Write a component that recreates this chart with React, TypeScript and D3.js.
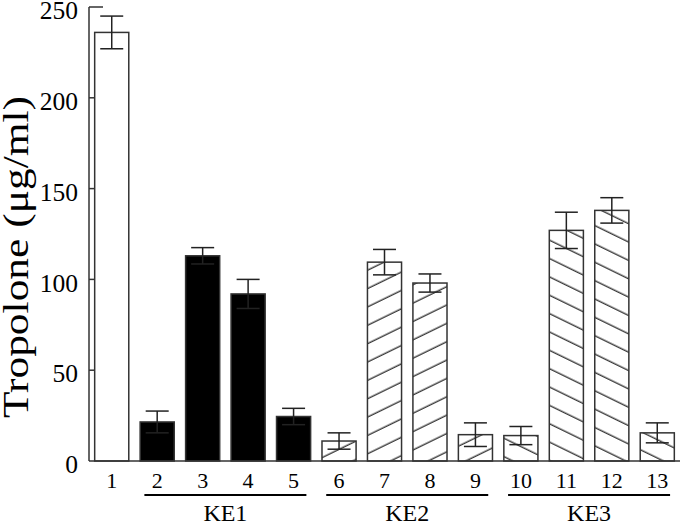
import React from 'react';
import * as d3 from 'd3';

const labels = ['1', '2', '3', '4', '5', '6', '7', '8', '9', '10', '11', '12', '13'];
const means = [236, 21.5, 113, 92, 24.5, 11, 109.5, 98, 14.5, 14, 127, 138, 15.5];
const errs = [9, 6, 4.5, 8, 4.5, 4.5, 7, 5, 6.5, 5, 10, 7, 5.5];
const kinds = ['open', 'solid', 'solid', 'solid', 'solid', 'up', 'up', 'up', 'up', 'down', 'down', 'down', 'down'];
const groupNames = ['KE1', 'KE2', 'KE3'];
const groupFirst = ['2', '6', '10'];
const groupLast = ['5', '9', '13'];
const yTicks = [0, 50, 100, 150, 200, 250];

const W = 680;
const H = 524;
const left = 89;
const base = 461;
const top = 7;
const serif = '"Liberation Serif", "DejaVu Serif", serif';

const App = () => {
    const x = d3.scaleBand()
        .domain(labels)
        .range([left, W])
        .paddingInner(0.25)
        .paddingOuter(0.125);

    const y = d3.scaleLinear()
        .domain([0, 250])
        .range([base, top]);

    const bw = x.bandwidth();
    const fillFor = k => k === 'solid' ? '#000' : k === 'up' ? 'url(#hatchUp)' : k === 'down' ? 'url(#hatchDown)' : '#fff';

    return (
        <svg width={W} height={H} style={{ position: 'absolute', left: 0, top: 0, background: '#fff' }}>
            <defs>
                <pattern id="hatchUp" patternUnits="userSpaceOnUse" width={10} height={16.5} patternTransform="rotate(-26)">
                    <rect width={10} height={16.5} fill="#fff" />
                    <line x1={0} x2={10} y1={8} y2={8} stroke="#2a2a2a" strokeWidth={1.3} />
                </pattern>
                <pattern id="hatchDown" patternUnits="userSpaceOnUse" width={10} height={16.5} patternTransform="rotate(26)">
                    <rect width={10} height={16.5} fill="#fff" />
                    <line x1={0} x2={10} y1={8} y2={8} stroke="#2a2a2a" strokeWidth={1.3} />
                </pattern>
            </defs>

            {/* bars */}
            {labels.map((l, i) => (
                <rect key={'b' + l} x={x(l)} y={y(means[i])} width={bw} height={base - y(means[i])}
                    fill={fillFor(kinds[i])} stroke="#333" strokeWidth={1.5} />
            ))}

            {/* error bars */}
            {labels.map((l, i) => {
                const cx = x(l) + bw / 2;
                const lo = y(means[i] - errs[i]);
                const hi = y(means[i] + errs[i]);
                return (
                    <g key={'e' + l} stroke="#222" strokeWidth={1.5}>
                        <line x1={cx} x2={cx} y1={lo} y2={hi} />
                        <line x1={cx - 11.5} x2={cx + 11.5} y1={hi} y2={hi} />
                        <line x1={cx - 11.5} x2={cx + 11.5} y1={lo} y2={lo} />
                    </g>
                );
            })}

            {/* axes */}
            <line x1={left} x2={left} y1={top} y2={base} stroke="#333" strokeWidth={1.5} />
            <line x1={left} x2={W} y1={base} y2={base} stroke="#333" strokeWidth={1.5} />
            {yTicks.map(t => (
                <g key={'t' + t}>
                    {t > 0 && <line x1={left} x2={t === 250 ? left + 14 : left + 5} y1={y(t)} y2={y(t)} stroke="#333" strokeWidth={1.5} />}
                    <text x={78} y={y(t)} dy="0.48em" textAnchor="end" fontFamily={serif} fontSize={25.5} fill="#000">{t}</text>
                </g>
            ))}
            <text transform={`translate(28, ${257}) rotate(-90)`} textAnchor="middle" fontFamily={serif} fontSize={35}
                textLength={322} lengthAdjust="spacingAndGlyphs" fill="#000">
                Tropolone (μg/ml)
            </text>

            {/* category labels */}
            {labels.map(l => (
                <text key={'l' + l} x={x(l) + bw / 2} y={488} textAnchor="middle" fontFamily={serif} fontSize={22} fill="#000">{l}</text>
            ))}

            {/* groups */}
            {groupNames.map((g, i) => {
                const c = (x(groupFirst[i]) + x(groupLast[i]) + bw) / 2;
                return (
                    <g key={g}>
                        <line x1={c - 81} x2={c + 81} y1={495} y2={495} stroke="#000" strokeWidth={2} />
                        <text x={c} y={521} textAnchor="middle" fontFamily={serif} fontSize={24} fill="#000">{g}</text>
                    </g>
                );
            })}
        </svg>
    );
};

export default App;
